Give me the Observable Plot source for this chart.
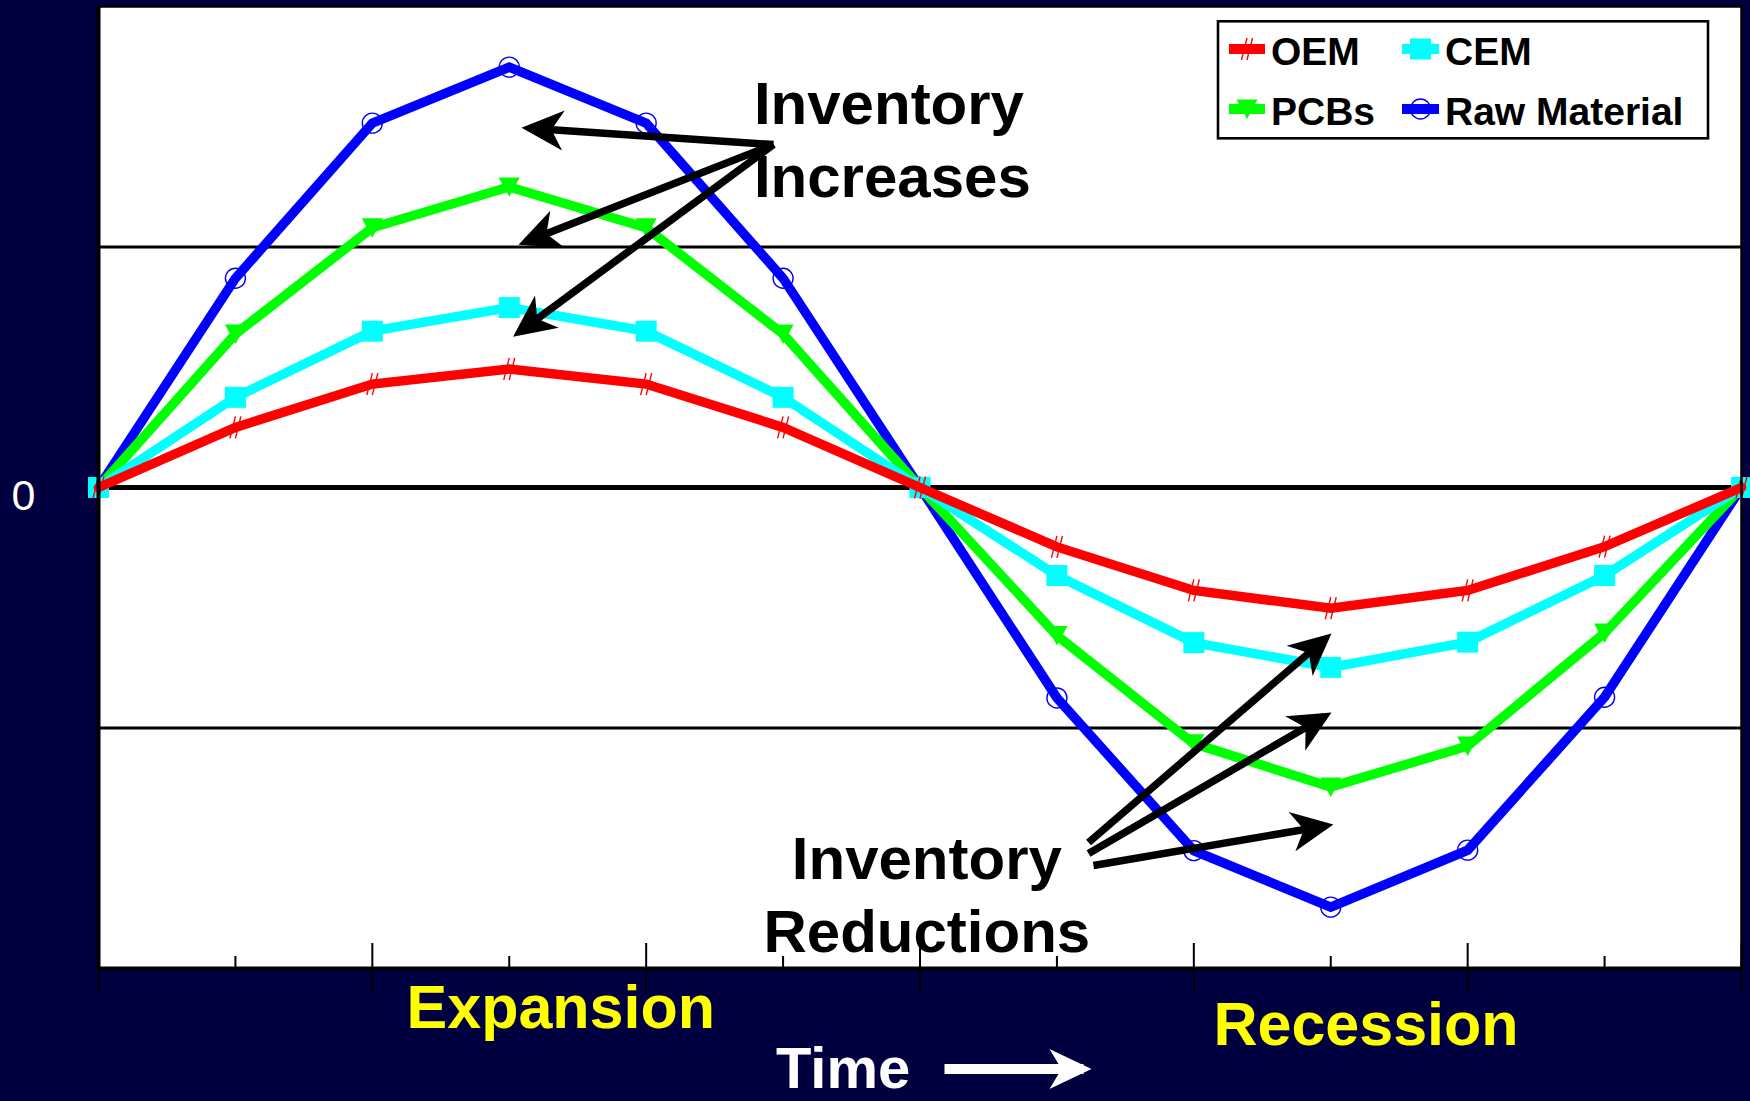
<!DOCTYPE html>
<html>
<head>
<meta charset="utf-8">
<script src="https://cdn.jsdelivr.net/npm/d3@7"></script>
<script src="https://cdn.jsdelivr.net/npm/@observablehq/plot@0.6"></script>
<style>
  html, body { margin: 0; padding: 0; background: #000040; }
  #wrap { position: relative; width: 1750px; height: 1101px; overflow: hidden; }
  #legend { position: absolute; left: 0; top: 0; pointer-events: none; }
</style>
</head>
<body>
<div id="wrap"></div>
<script>
// ---------------- data ----------------
const timeSteps = [0, 1, 2, 3, 4, 5, 6, 7, 8, 9, 10, 11, 12];
const seriesNames = ["OEM", "CEM", "PCBs", "Raw Material"];
const seriesColors = ["#FF0000", "#00FFFF", "#00FF00", "#0000FF"];
const oemValues  = [0, 0.25, 0.43, 0.493, 0.43, 0.25, 0, -0.247, -0.428, -0.502, -0.428, -0.246, 0];
const cemValues  = [0, 0.375, 0.65, 0.748, 0.65, 0.375, 0, -0.366, -0.645, -0.748, -0.643, -0.366, 0];
const pcbValues  = [0, 0.638, 1.08, 1.25, 1.08, 0.638, 0, -0.615, -1.065, -1.245, -1.075, -0.605, 0];
const rawValues  = [0, 0.87, 1.515, 1.748, 1.515, 0.87, 0, -0.875, -1.51, -1.745, -1.508, -0.872, 0];

const majorTicks = [0, 2, 4, 6, 8, 10, 12];
const minorTicks = [1, 3, 5, 7, 9, 11];
const gridValues = [-1, 1];
const zeroValue = [0];
const yTickLabels = [0];

// annotation text (data units)
const noteLabels = ["Inventory", "Increases", "Inventory", "Reductions"];
const noteX = [4.787, 4.787, 6.05, 6.05];
const noteY = [1.513, 1.207, -1.626, -1.933];
const noteAnchor = ["start", "start", "middle", "middle"];

// annotation arrows (data units)
const arrowX1 = [4.93, 4.93, 4.93, 7.231, 7.231, 7.267];
const arrowY1 = [1.426, 1.426, 1.426, -1.476, -1.522, -1.572];
const arrowX2 = [3.148, 3.122, 3.075, 8.961, 8.955, 8.962];
const arrowY2 = [1.494, 1.022, 0.647, -0.629, -0.952, -1.407];

// labels under the axis (data units)
const phaseLabels = ["Expansion", "Recession"];
const phaseX = [2.25, 8.143];
const phaseY = [-2.248, -2.32];
const timeLabel = ["Time"];
const timeX = [4.948];
const timeY = [-2.497];
const timeArrowX = [6.179, 7.194];
const timeArrowY = [-2.418, -2.418];

// ---------------- symbols ----------------
const slashSymbol = {
  draw(ctx, size) {
    const r = Math.sqrt(size / Math.PI);
    ctx.moveTo(-0.5 * r, r); ctx.lineTo(0, -r);
    ctx.moveTo(0, r); ctx.lineTo(0.5 * r, -r);
  }
};
const triDownSymbol = {
  draw(ctx, size) {
    const r = Math.sqrt(size / Math.PI);
    ctx.moveTo(-r, -0.9 * r); ctx.lineTo(r, -0.9 * r); ctx.lineTo(0, 0.95 * r); ctx.closePath();
  }
};
const seriesSymbols = [
  {symbol: slashSymbol, r: 11, fill: "none", strokeWidth: 1.4},
  {symbol: "square", r: 11.85, fill: "color", strokeWidth: 0},
  {symbol: triDownSymbol, r: 10.5, fill: "color", strokeWidth: 0},
  {symbol: "circle", r: 10, fill: "none", strokeWidth: 1.4}
];
const seriesValues = [oemValues, cemValues, pcbValues, rawValues];
const drawOrder = [3, 2, 1, 0];

const FONT = "'Liberation Sans', Arial, Helvetica, sans-serif";
const NS = "http://www.w3.org/2000/svg";

function stealthMarker(color, context) {
  const doc = (context && context.document) || document;
  const m = doc.createElementNS(NS, "marker");
  m.setAttribute("viewBox", "-36 -22 46 44");
  m.setAttribute("markerWidth", 46);
  m.setAttribute("markerHeight", 44);
  m.setAttribute("markerUnits", "userSpaceOnUse");
  m.setAttribute("orient", "auto");
  m.setAttribute("refX", 0);
  m.setAttribute("refY", 0);
  const p = doc.createElementNS(NS, "path");
  p.setAttribute("d", "M8,0L-34,-20L-22,0L-34,20Z");
  p.setAttribute("fill", color);
  p.setAttribute("stroke", "none");
  m.appendChild(p);
  return m;
}

function build(customMarker) {
  const W = 1750, H = 1101;
  const mL = 98, mR = 9, mT = 6, mB = 133;
  const frameH = H - mT - mB;

  const marks = [];
  marks.push(Plot.frame({fill: "white", stroke: "none"}));
  marks.push(Plot.ruleY(gridValues, {stroke: "black", strokeWidth: 3}));
  marks.push(Plot.ruleY(zeroValue, {stroke: "black", strokeWidth: 5}));

  for (const k of drawOrder) {
    const data = timeSteps.map((t, i) => ({t, v: seriesValues[k][i]}));
    const color = seriesColors[k];
    const s = seriesSymbols[k];
    marks.push(Plot.line(data, {x: "t", y: "v", stroke: color, strokeWidth: 9.5, strokeLinejoin: "miter", strokeMiterlimit: 6}));
    marks.push(Plot.dot(data, {
      x: "t", y: "v", symbol: s.symbol, r: s.r,
      fill: s.fill === "color" ? color : "none",
      stroke: s.fill === "color" ? "none" : color,
      strokeWidth: s.strokeWidth
    }));
  }

  const arrows = arrowX1.map((x1, i) => ({x1, y1: arrowY1[i], x2: arrowX2[i], y2: arrowY2[i]}));
  const timeArrow = [{x1: timeArrowX[0], y1: timeArrowY[0], x2: timeArrowX[1], y2: timeArrowY[1]}];
  if (customMarker) {
    marks.push(Plot.link(arrows, {x1: "x1", y1: "y1", x2: "x2", y2: "y2", stroke: "black", strokeWidth: 7.5, markerEnd: stealthMarker}));
    marks.push(Plot.link(timeArrow, {x1: "x1", y1: "y1", x2: "x2", y2: "y2", stroke: "white", strokeWidth: 10, markerEnd: stealthMarker}));
  } else {
    marks.push(Plot.arrow(arrows, {x1: "x1", y1: "y1", x2: "x2", y2: "y2", stroke: "black", strokeWidth: 7.5, headLength: 40}));
    marks.push(Plot.arrow(timeArrow, {x1: "x1", y1: "y1", x2: "x2", y2: "y2", stroke: "white", strokeWidth: 10, headLength: 40}));
  }

  const notes = noteLabels.map((text, i) => ({text, x: noteX[i], y: noteY[i], anchor: noteAnchor[i]}));
  for (const a of ["start", "middle"]) {
    marks.push(Plot.text(notes.filter(d => d.anchor === a), {
      x: "x", y: "y", text: "text", textAnchor: a, lineAnchor: "bottom",
      fontSize: 60, fontWeight: "bold", fontFamily: FONT, fill: "black"
    }));
  }

  // frame and axes
  marks.push(Plot.frame({stroke: "black", strokeWidth: 2.5, fill: "none"}));
  marks.push(Plot.ruleY([-2], {stroke: "black", strokeWidth: 4}));
  marks.push(Plot.ruleX([0], {stroke: "black", strokeWidth: 4}));
  marks.push(Plot.ruleX(majorTicks, {stroke: "black", strokeWidth: 2, insetTop: frameH - 25}));
  marks.push(Plot.ruleX(minorTicks, {stroke: "black", strokeWidth: 2, insetTop: frameH - 12}));
  marks.push(Plot.axisX(majorTicks, {tickSize: 26, tickFormat: () => "", stroke: "black", strokeWidth: 2, label: null}));
  marks.push(Plot.axisY(yTickLabels, {tickSize: 0, tickPadding: 63, fontSize: 43, fill: "white", color: "white",
    dy: 9, label: null, fontFamily: FONT, tickFormat: d => String(d)}));

  // labels beneath the plot
  const phases = phaseLabels.map((text, i) => ({text, x: phaseX[i], y: phaseY[i]}));
  marks.push(Plot.text(phases, {x: "x", y: "y", text: "text", textAnchor: "start", lineAnchor: "bottom",
    fontSize: 61, fontWeight: "bold", fontFamily: FONT, fill: "#FFFF00"}));
  marks.push(Plot.text(timeLabel.map((text, i) => ({text, x: timeX[i], y: timeY[i]})), {x: "x", y: "y", text: "text", textAnchor: "start", lineAnchor: "bottom",
    fontSize: 58, fontWeight: "bold", fontFamily: FONT, fill: "white"}));

  return Plot.plot({
    width: W, height: H,
    marginLeft: mL, marginRight: mR, marginTop: mT, marginBottom: mB,
    x: {domain: [0, 12]},
    y: {domain: [-2, 2]},
    style: {background: "#000040", color: "black", fontFamily: FONT, overflow: "visible"},
    marks
  });
}

let chart;
try { chart = build(true); } catch (e) { console.error(e); chart = build(false); }
const wrap = document.getElementById("wrap");
wrap.appendChild(chart);

// ---------------- legend overlay ----------------
const legend = d3.create("svg")
  .attr("id", "legend")
  .attr("width", 1750).attr("height", 1101)
  .attr("viewBox", "0 0 1750 1101");
legend.append("rect")
  .attr("x", 1218).attr("y", 21.3).attr("width", 490).attr("height", 117)
  .attr("fill", "white").attr("stroke", "black").attr("stroke-width", 2.6);
const cols = [{x0: 1229, x1: 1265, tx: 1271}, {x0: 1402, x1: 1439, tx: 1445}];
const rowsY = [{y: 49, ty: 65}, {y: 109, ty: 125}];
seriesNames.forEach((name, i) => {
  const c = cols[i % 2], r = rowsY[Math.floor(i / 2)];
  const color = seriesColors[i];
  const s = seriesSymbols[i];
  const g = legend.append("g");
  g.append("line").attr("x1", c.x0).attr("x2", c.x1).attr("y1", r.y).attr("y2", r.y)
    .attr("stroke", color).attr("stroke-width", 10);
  const sym = typeof s.symbol === "string"
    ? (s.symbol === "square" ? d3.symbolSquare : d3.symbolCircle)
    : s.symbol;
  g.append("path")
    .attr("transform", `translate(${(c.x0 + c.x1) / 2},${r.y})`)
    .attr("d", d3.symbol().type(sym).size(Math.PI * s.r * s.r)())
    .attr("fill", s.fill === "color" ? color : "none")
    .attr("stroke", s.fill === "color" ? "none" : color)
    .attr("stroke-width", s.strokeWidth);
  g.append("text").attr("x", c.tx).attr("y", r.ty)
    .attr("font-family", FONT).attr("font-weight", "bold").attr("font-size", 39)
    .attr("fill", "black").text(name);
});
wrap.appendChild(legend.node());
</script>
</body>
</html>
